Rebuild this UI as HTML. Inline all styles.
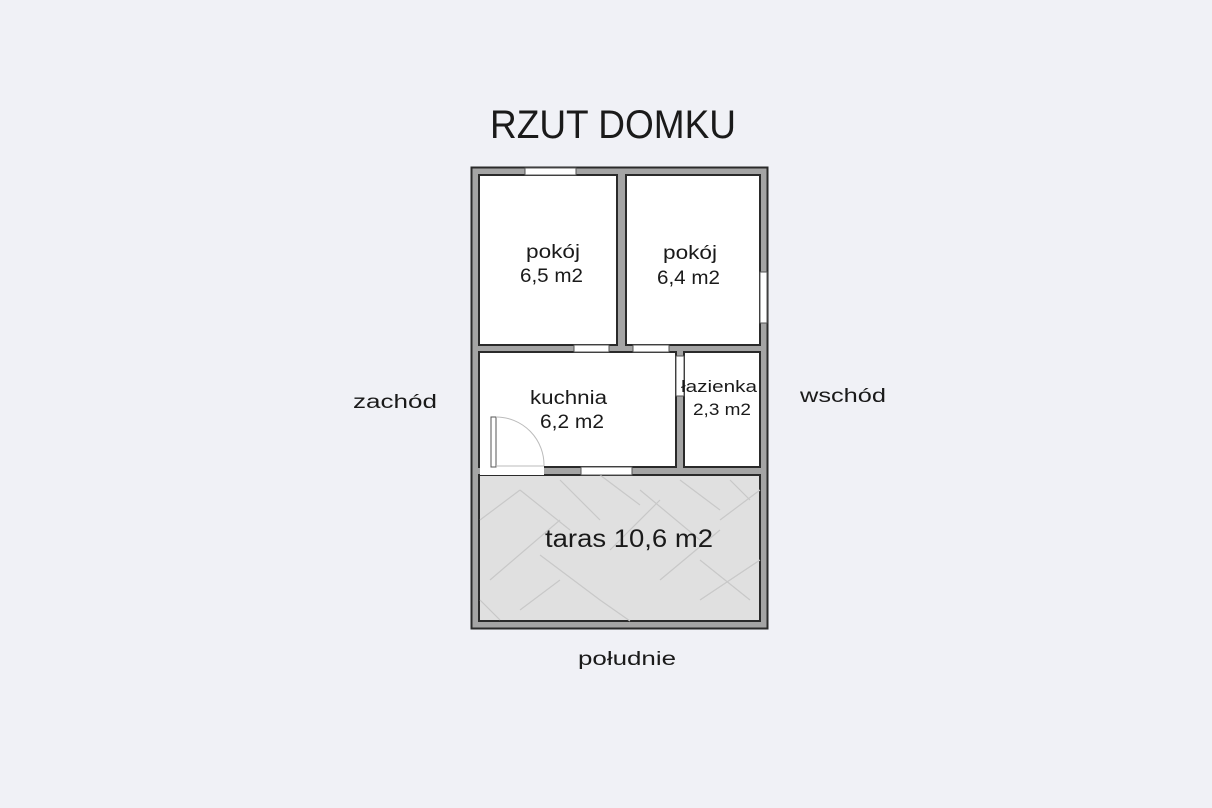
<!DOCTYPE html>
<html><head><meta charset="utf-8"><style>
html,body{margin:0;padding:0;background:#f0f1f6;}
svg{display:block;}
text{font-family:"Liberation Sans","DejaVu Sans",sans-serif;fill:#1a1a1a;}
</style></head><body>
<svg width="1212" height="808" viewBox="0 0 1212 808" xmlns="http://www.w3.org/2000/svg">
<rect width="1212" height="808" fill="#f0f1f6"/>
<text x="613" y="138" font-size="40" text-anchor="middle" textLength="246" lengthAdjust="spacingAndGlyphs">RZUT DOMKU</text>
<rect x="471.5" y="167.5" width="296" height="461" fill="#a4a4a4" stroke="#2a2a2a" stroke-width="2"/>
<g stroke="#2a2a2a" stroke-width="2" fill="#fff">
<rect x="479" y="175" width="138" height="170"/>
<rect x="626" y="175" width="134" height="170"/>
<rect x="479" y="352" width="197" height="115"/>
<rect x="684" y="352" width="76" height="115"/>
<rect x="479" y="475" width="281" height="146" fill="#e0e0e0"/>
</g>
<g stroke="#c8c8c8" stroke-width="1.2" fill="none">
<path d="M480 520 L520 490 M520 490 L570 530 M490 580 L560 520 M540 555 L600 600 M520 610 L560 580 M600 600 L630 621 M610 550 L660 500 M640 490 L700 540 M660 580 L720 530 M700 600 L760 560 M720 520 L760 490 M680 480 L720 510 M600 475 L640 505 M730 480 L750 500 M560 480 L600 520 M700 560 L750 600 M480 600 L500 620"/>
</g>
<g fill="#fff" stroke="#555" stroke-width="1">
<rect x="525" y="168" width="51" height="7"/>
<rect x="760" y="272" width="7" height="51"/>
<rect x="574" y="345" width="35" height="7"/>
<rect x="633" y="345" width="36" height="7"/>
<rect x="676" y="356" width="8" height="40"/>
<rect x="581" y="467" width="51" height="8"/>
</g>
<rect x="480" y="466" width="64" height="9" fill="#fff"/>
<rect x="491" y="417" width="5" height="50" fill="#fff" stroke="#555" stroke-width="1"/>
<path d="M496 417 A48 48 0 0 1 544 466" fill="none" stroke="#bbb" stroke-width="1"/>
<line x1="496" y1="466" x2="544" y2="466" stroke="#bbb" stroke-width="1"/>
<g font-size="19" lengthAdjust="spacingAndGlyphs">
<text x="526" y="258" textLength="54" lengthAdjust="spacingAndGlyphs">pokój</text>
<text x="520" y="282" textLength="63" lengthAdjust="spacingAndGlyphs">6,5 m2</text>
<text x="663" y="259" textLength="54" lengthAdjust="spacingAndGlyphs">pokój</text>
<text x="657" y="284" textLength="63" lengthAdjust="spacingAndGlyphs">6,4 m2</text>
<text x="530" y="404" textLength="77" lengthAdjust="spacingAndGlyphs">kuchnia</text>
<text x="540" y="428" textLength="64" lengthAdjust="spacingAndGlyphs">6,2 m2</text>
<text x="681" y="392" font-size="17" textLength="76" lengthAdjust="spacingAndGlyphs">łazienka</text>
<text x="693" y="415" font-size="17" textLength="58" lengthAdjust="spacingAndGlyphs">2,3 m2</text>
<text x="353" y="408" textLength="84" lengthAdjust="spacingAndGlyphs">zachód</text>
<text x="800" y="402" textLength="86" lengthAdjust="spacingAndGlyphs">wschód</text>
<text x="578" y="665" textLength="98" lengthAdjust="spacingAndGlyphs">południe</text>
<text x="545" y="547" font-size="25" textLength="168" lengthAdjust="spacingAndGlyphs">taras 10,6 m2</text>
</g>
</svg>
</body></html>
